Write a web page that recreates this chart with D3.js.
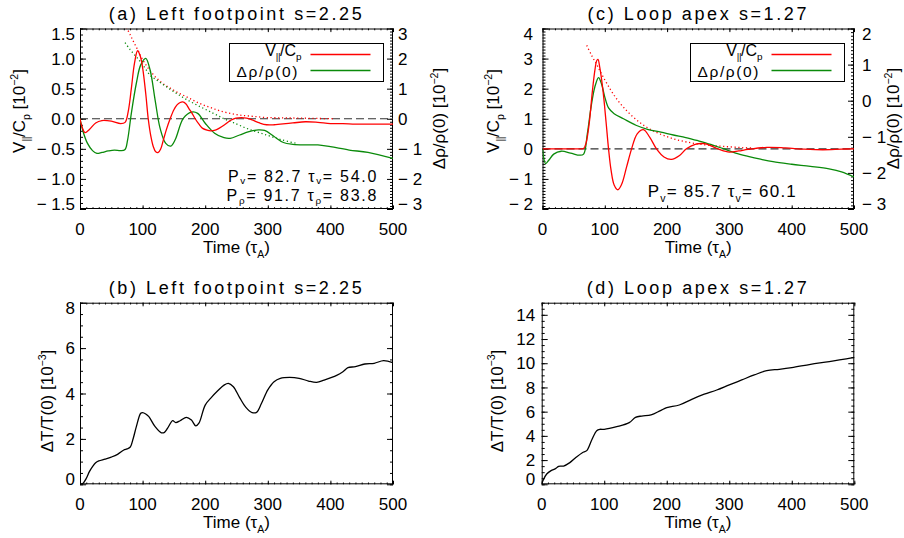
<!DOCTYPE html>
<html><head><meta charset="utf-8">
<script src="https://cdn.jsdelivr.net/npm/d3@7"></script>
<style>body{margin:0;background:#fff}text{font-family:"Liberation Sans",Arial,sans-serif;fill:#000}</style>
</head><body><svg id="c" width="904" height="538"></svg>
<script>
// ---------------- data ----------------
const xTicks = [0, 100, 200, 300, 400, 500];

// (a) Left footpoint
const aVelT = [0,3,8,15,25,35,50,65,72,77,82,87,92,96,100,105,109,113,117,121,125,129,133,138,144,150,155,160,164,169,174,179,184,190,196,203,209,216,222,231,240,249,258,266,275,287,298,310,320,340,360,380,400,420,440,470,500];
const aVel  = [0,-0.13,-0.23,-0.18,-0.07,-0.03,-0.04,-0.08,-0.06,0.12,0.5,0.92,1.13,1.05,0.85,0.42,0.0,-0.28,-0.46,-0.55,-0.56,-0.5,-0.36,-0.18,0.0,0.15,0.23,0.27,0.28,0.25,0.17,0.09,0.0,-0.09,-0.16,-0.19,-0.2,-0.19,-0.16,-0.1,-0.03,0.01,0.02,0.01,-0.02,-0.07,-0.1,-0.1,-0.09,-0.07,-0.05,-0.06,-0.08,-0.08,-0.09,-0.09,-0.09];
const aRhoT = [0,5,12,20,27,35,45,55,65,72,76,82,90,97,105,112,120,128,137,145,152,165,178,188,200,215,230,240,255,270,285,295,310,325,340,360,380,400,430,460,500];
const aRho  = [0,-0.43,-0.82,-1.06,-1.15,-1.12,-1.07,-1.04,-1.06,-1.02,-0.71,0.18,1.18,1.79,2.01,1.62,0.62,-0.32,-0.82,-0.91,-0.7,0.01,0.22,0.18,-0.15,-0.48,-0.63,-0.65,-0.54,-0.43,-0.37,-0.39,-0.59,-0.79,-0.85,-0.87,-0.87,-0.93,-1.04,-1.12,-1.32];
const aVelFitT = [74,80,86,92,99,107,115,123,133,144,157,171,184,197,210,224,240,256,276,298,325,352,380,405];
const aVelFit  = [1.52,1.4,1.27,1.15,1.0,0.87,0.76,0.67,0.58,0.51,0.43,0.36,0.29,0.23,0.18,0.13,0.09,0.06,0.04,0.02,0.015,0.01,0.005,0];
const aRhoFitT = [72,80,90,100,112,125,139,155,171,192,213,230,245,270,298,322,346];
const aRhoFit  = [2.53,2.3,2.06,1.8,1.45,1.25,1.05,0.83,0.63,0.4,0.18,0.0,-0.13,-0.35,-0.54,-0.7,-0.82];

// (c) Loop apex
const cVelT = [0,30,60,66,70,75,80,84,87,89,92,97,102,106,110,115,121,127,135,143,152,162,172,183,195,207,220,231,245,260,275,285,300,315,330,360,390,420,450,480,500];
const cVel  = [0,0,0,0.01,0.2,0.85,1.9,2.6,2.93,2.97,2.7,1.95,0.9,0.0,-0.7,-1.2,-1.36,-1.18,-0.6,0,0.5,0.64,0.39,0,-0.27,-0.35,-0.22,0,0.15,0.17,0.06,-0.03,-0.11,-0.07,-0.02,0.05,0.03,-0.01,-0.03,-0.01,0];
const cRhoT = [0,5,10,18,30,45,60,66,72,78,84,90,95,100,106,115,130,150,170,190,210,230,250,270,290,310,330,350,370,400,430,460,480,500];
const cRho  = [-1.33,-1.74,-1.65,-1.48,-1.4,-1.45,-1.51,-1.48,-0.91,-0.17,0.38,0.64,0.45,0.1,-0.2,-0.36,-0.5,-0.68,-0.8,-0.87,-0.95,-1.02,-1.11,-1.21,-1.33,-1.45,-1.54,-1.62,-1.69,-1.76,-1.82,-1.89,-1.97,-2.11];
const cVelFitT = [71,79,87,95,104,115,130,150,172,199,226,258,290,322,335];
const cVelFit  = [3.44,3.1,2.8,2.48,2.15,1.78,1.38,0.98,0.66,0.41,0.25,0.14,0.08,0.04,0.03];

// (b) Left footpoint temperature
const bTempT = [0,5,10,15,20,25,30,40,50,60,70,75,80,85,90,97,100,105,110,120,130,135,140,148,153,160,170,178,185,190,200,210,220,230,237,245,255,265,275,282,290,300,310,320,335,350,365,378,390,410,420,428,440,455,470,485,500];
const bTemp  = [0,0.05,0.26,0.56,0.78,0.95,1.03,1.11,1.2,1.32,1.51,1.56,1.63,2.02,2.54,3.13,3.16,3.1,2.98,2.54,2.27,2.29,2.47,2.8,2.72,2.8,2.95,2.83,2.57,2.69,3.49,3.83,4.12,4.37,4.45,4.3,3.82,3.39,3.16,3.17,3.57,4.16,4.52,4.67,4.71,4.67,4.55,4.49,4.59,4.8,4.96,5.14,5.18,5.3,5.33,5.45,5.36];

// (d) Loop apex temperature
const dTempT = [0,3,8,15,22,27,35,45,55,65,72,80,88,93,100,120,140,150,160,175,190,200,220,240,260,280,300,320,340,360,380,400,430,460,500];
const dTemp  = [0,0.41,0.85,1.13,1.29,1.48,1.51,1.79,2.23,2.61,2.78,3.66,4.43,4.54,4.54,4.76,5.09,5.53,5.64,5.73,6.09,6.33,6.55,7.02,7.44,7.79,8.21,8.62,9.03,9.39,9.5,9.64,9.91,10.14,10.49];

const aLeftTicks  = [-1.5,-1,-0.5,0,0.5,1,1.5];
const aRightTicks = [-3,-2,-1,0,1,2,3];
const cLeftTicks  = [-2,-1,0,1,2,3,4];
const cRightTicks = [-3,-2,-1,0,1,2];
const bTicks = [0,2,4,6,8];
const dTicks = [0,2,4,6,8,10,12,14];

// ---------------- drawing ----------------
const RED = "#ff0000", GREEN = "#0a8a0a";
const FS = 17;
const svg = d3.select("#c");
svg.append("rect").attr("width",904).attr("height",538).attr("fill","#fff");

function rich(sel, parts, fs, subShift){
  let cur = 0;
  const sh = subShift || 0.3;
  parts.forEach(p=>{
    const target = p.s==="sub" ? fs*sh : p.s==="sup" ? -fs*0.42 : 0;
    const ts = sel.append("tspan").attr("dy", (target-cur).toFixed(2)).text(p.t);
    if (p.s) ts.attr("font-size", (fs*0.62).toFixed(2));
    if (p.ls) ts.attr("letter-spacing", p.ls);
    cur = target;
  });
}
function fmt(v, dec){
  const s = Math.abs(v).toFixed(dec);
  return v < 0 ? "\u2212 " + s : s;
}

function panel(p){
  const g = svg.append("g");
  const x = d3.scaleLinear().domain([0,500]).range([p.x0,p.x1]);
  const yL = d3.scaleLinear().domain(p.yL.domain).range([p.y1,p.y0]);
  const yR = p.yR ? d3.scaleLinear().domain(p.yR.domain).range([p.y1,p.y0]) : null;
  const cid = "clip"+p.key;
  svg.append("clipPath").attr("id",cid).append("rect")
    .attr("x",p.x0).attr("y",p.y0).attr("width",p.x1-p.x0).attr("height",p.y1-p.y0);

  function ax(axis, tx, ty){
    const a = g.append("g").attr("transform",`translate(${tx},${ty})`).call(axis);
    a.select(".domain").remove(); a.selectAll("text").remove();
    a.selectAll("line").attr("stroke","#000").attr("stroke-width",1);
  }
  const xMinor = d3.range(0,501,10);
  ax(d3.axisBottom(x).tickValues(xMinor).tickSize(-1.8).tickSizeOuter(0), 0, p.y1);
  ax(d3.axisBottom(x).tickValues(xTicks).tickSize(-3.6).tickSizeOuter(0), 0, p.y1);
  ax(d3.axisTop(x).tickValues(xMinor).tickSize(-1.8).tickSizeOuter(0), 0, p.y0);
  ax(d3.axisTop(x).tickValues(xTicks).tickSize(-3.6).tickSizeOuter(0), 0, p.y0);

  const yLMinor = d3.range(p.yL.domain[0], p.yL.domain[1]+1e-6, p.yL.minor);
  ax(d3.axisLeft(yL).tickValues(yLMinor).tickSize(-3).tickSizeOuter(0), p.x0, 0);
  ax(d3.axisLeft(yL).tickValues(p.yL.ticks).tickSize(-6).tickSizeOuter(0), p.x0, 0);
  const yRs = yR || yL, yRspec = p.yR || p.yL;
  const yRMinor = d3.range(yRspec.domain[0], yRspec.domain[1]+1e-6, yRspec.minor);
  ax(d3.axisRight(yRs).tickValues(yRMinor).tickSize(-3).tickSizeOuter(0), p.x1, 0);
  ax(d3.axisRight(yRs).tickValues(yRspec.ticks).tickSize(-6).tickSizeOuter(0), p.x1, 0);

  // frame
  g.append("rect").attr("x",p.x0+0.5).attr("y",p.y0+0.5).attr("width",p.x1-p.x0-1).attr("height",p.y1-p.y0-1)
    .attr("fill","none").attr("stroke","#000").attr("stroke-width",1);

  // tick labels
  const edge = (v, dom) => v===dom[1] ? 5 : v===dom[0] ? -5 : 0;
  g.selectAll(null).data(xTicks).enter().append("text")
    .attr("x",d=>x(d)).attr("y",p.y1+25.5).attr("text-anchor","middle").attr("font-size",FS).text(d=>d);
  g.selectAll(null).data(p.yL.ticks).enter().append("text")
    .attr("x",p.x0-p.yL.gap).attr("y",d=>yL(d)+edge(d,p.yL.domain)).attr("dy","0.36em")
    .attr("text-anchor","end").attr("font-size",FS).text(d=>fmt(d,p.yL.dec));
  if (yR){
    g.selectAll(null).data(p.yR.ticks).enter().append("text")
      .attr("x",p.x1+p.yR.gap).attr("y",d=>yR(d)+edge(d,p.yR.domain)).attr("dy","0.36em")
      .attr("text-anchor","start").attr("font-size",FS).text(d=>fmt(d,p.yR.dec));
  }

  // titles
  g.append("text").attr("x",(p.x0+p.x1)/2).attr("y",p.titleY).attr("text-anchor","middle")
    .attr("font-size",18).attr("letter-spacing","2.6px").text(p.title);
  const xt = g.append("text").attr("x",(p.x0+p.x1)/2).attr("y",p.y1+43.5).attr("text-anchor","middle").attr("font-size",FS);
  rich(xt, [{t:"Time ("},{t:"\u03c4"},{t:"A",s:"sub"},{t:")"}], FS);
  const yt = g.append("text").attr("transform",`translate(${p.yLab[0]},${p.yLab[1]}) rotate(-90)`)
    .attr("text-anchor","middle").attr("font-size",FS);
  rich(yt, p.yL.label, FS);
  if (yR){
    const yt2 = g.append("text").attr("transform",`translate(${p.yRab[0]},${p.yRab[1]}) rotate(-90)`)
      .attr("text-anchor","middle").attr("font-size",FS);
    rich(yt2, p.yR.label, FS);
  }

  // zero line
  if (p.zero){
    g.append("line").attr("x1",p.x0).attr("x2",p.x1).attr("y1",yL(0)).attr("y2",yL(0))
      .attr("stroke","#333").attr("stroke-width",1.2).attr("stroke-dasharray","8,4");
  }

  // series
  const cl = g.append("g").attr("clip-path",`url(#${cid})`);
  p.series.forEach(s=>{
    const ys = s.axis==="R" ? yR : yL;
    const pts = s.t.map((t,i)=>[t,s.v[i]]);
    const line = d3.line().x(d=>x(d[0])).y(d=>ys(d[1])).curve(d3.curveCatmullRom.alpha(0.5));
    cl.append("path").attr("d",line(pts)).attr("fill","none").attr("stroke",s.color)
      .attr("stroke-width", 1.3)
      .attr("stroke-dasharray", s.dot ? "1.2,2.6" : null);
  });

  // legend
  if (p.legend){
    const r = p.x1;
    g.append("rect").attr("x",r-163.5).attr("y",43.5).attr("width",154).attr("height",38)
      .attr("fill","#fff").attr("stroke","#000").attr("stroke-width",1);
    g.append("line").attr("x1",r-82.5).attr("x2",r-22.5).attr("y1",54.5).attr("y2",54.5).attr("stroke",RED).attr("stroke-width",1.3);
    g.append("line").attr("x1",r-82.5).attr("x2",r-22.5).attr("y1",70.5).attr("y2",70.5).attr("stroke",GREEN).attr("stroke-width",1.3);
    const t1 = g.append("text").attr("x",r-91.5).attr("y",56).attr("text-anchor","end").attr("font-size",16);
    rich(t1, [{t:"V"},{t:"||",s:"sub",ls:"-0.5px"},{t:"/C"},{t:"p",s:"sub"}], 16, 0.24);
    g.append("text").attr("x",r-94).attr("y",76.5).attr("text-anchor","end").attr("font-size",15.5)
      .attr("letter-spacing","1.6px").text("\u0394\u03c1/\u03c1(0)");
  }
  if (p.notes){
    p.notes.forEach(n=>{
      const t = g.append("text").attr("x",n.x).attr("y",n.y).attr("text-anchor","end")
        .attr("font-size",n.fs).attr("letter-spacing",n.ls);
      rich(t, n.parts, n.fs, n.sh);
    });
  }
}

const leftVLabel = [{t:"V"},{t:"||",s:"sub",ls:"-0.5px"},{t:"/C"},{t:"p",s:"sub"},{t:" [10"},{t:"\u22122",s:"sup"},{t:"]"}];
const rhoLabel = [{t:"\u0394\u03c1/\u03c1(0) [10"},{t:"\u22122",s:"sup"},{t:"]"}];
const tempLabel = [{t:"\u0394T/T(0) [10"},{t:"\u22123",s:"sup"},{t:"]"}];

panel({key:"a", x0:80, x1:393, y0:28.5, y1:209, titleY:20, title:"(a) Left footpoint s=2.25",
  yL:{domain:[-1.5,1.5], ticks:aLeftTicks, minor:0.1, dec:1, gap:5, label:leftVLabel},
  yR:{domain:[-3,3], ticks:aRightTicks, minor:0.1, dec:0, gap:5, label:rhoLabel},
  yLab:[25,111], yRab:[445,118.5], zero:true, legend:true,
  notes:[
    {x:378, y:181.5, fs:16, ls:"1.7px", sh:0.18, parts:[{t:"P"},{t:"v",s:"sub"},{t:"= 82.7 \u03c4"},{t:"v",s:"sub"},{t:"= 54.0"}]},
    {x:378, y:201, fs:16, ls:"1.7px", sh:0.18, parts:[{t:"P"},{t:"\u03c1",s:"sub"},{t:"= 91.7 \u03c4"},{t:"\u03c1",s:"sub"},{t:"= 83.8"}]}
  ],
  series:[
    {t:aVelFitT, v:aVelFit, axis:"L", color:RED, dot:true},
    {t:aRhoFitT, v:aRhoFit, axis:"R", color:GREEN, dot:true},
    {t:aRhoT, v:aRho, axis:"R", color:GREEN},
    {t:aVelT, v:aVel, axis:"L", color:RED}
  ]});

panel({key:"c", x0:542.5, x1:854, y0:28.5, y1:209, titleY:20, title:"(c) Loop apex s=1.27",
  yL:{domain:[-2,4], ticks:cLeftTicks, minor:0.1, dec:0, gap:9.5, label:leftVLabel},
  yR:{domain:[-3,2], ticks:cRightTicks, minor:0.1, dec:0, gap:8, label:rhoLabel},
  yLab:[499,111], yRab:[899,118.5], zero:true, legend:true,
  notes:[
    {x:797, y:196.5, fs:17, ls:"1.2px", sh:0.3, parts:[{t:"P"},{t:"v",s:"sub"},{t:"= 85.7 \u03c4"},{t:"v",s:"sub"},{t:"= 60.1"}]}
  ],
  series:[
    {t:cVelFitT, v:cVelFit, axis:"L", color:RED, dot:true},
    {t:cRhoT, v:cRho, axis:"R", color:GREEN},
    {t:cVelT, v:cVel, axis:"L", color:RED}
  ]});

panel({key:"b", x0:80, x1:393, y0:302.7, y1:484.3, titleY:293.5, title:"(b) Left footpoint s=2.25",
  yL:{domain:[0,8], ticks:bTicks, minor:0.5, dec:0, gap:5, label:tempLabel},
  yLab:[53,401],
  series:[{t:bTempT, v:bTemp, axis:"L", color:"#000"}]});

panel({key:"d", x0:541.7, x1:854.3, y0:302.7, y1:484.3, titleY:293.5, title:"(d) Loop apex s=1.27",
  yL:{domain:[0,15], ticks:dTicks, minor:0.5, dec:0, gap:6.5, label:tempLabel},
  yLab:[502.5,401],
  series:[{t:dTempT, v:dTemp, axis:"L", color:"#000"}]});
</script>
</body></html>
